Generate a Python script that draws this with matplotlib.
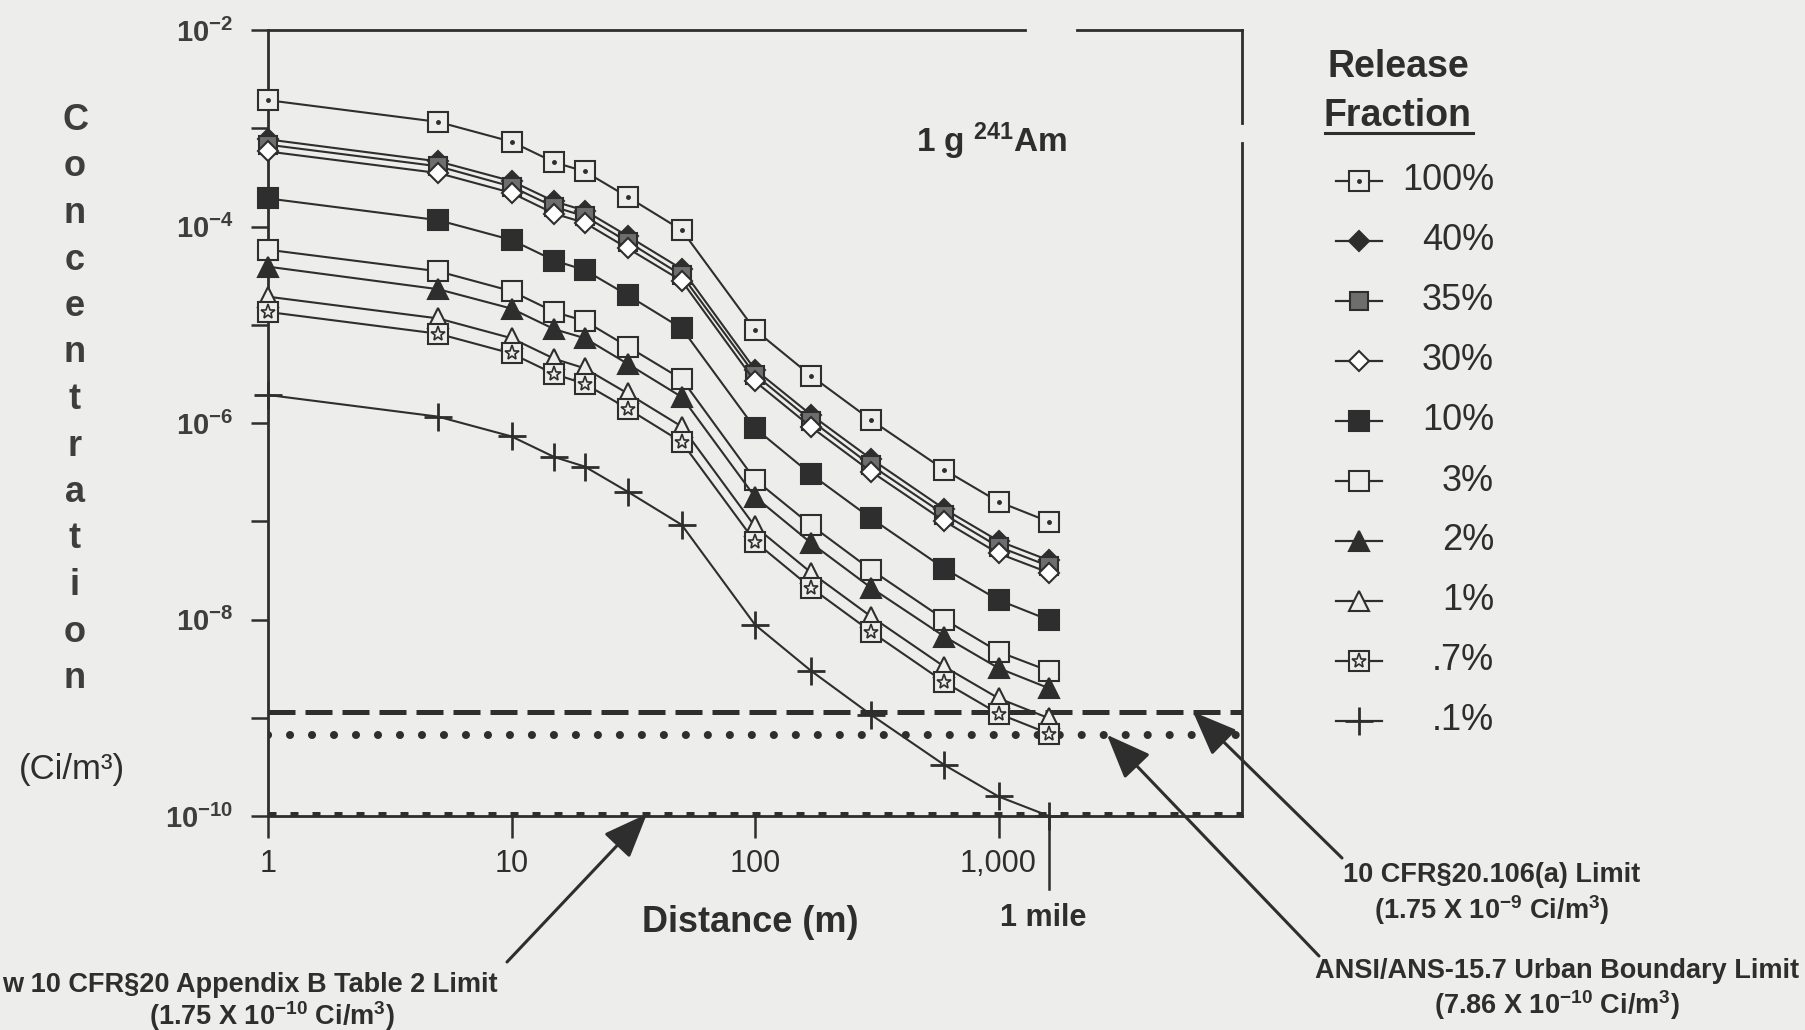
import matplotlib

matplotlib.use("Agg")
import matplotlib.pyplot as plt
import matplotlib.transforms as mtransforms
from matplotlib.lines import Line2D

plt.rcParams["font.family"] = ["Liberation Sans", "DejaVu Sans"]
plt.rcParams["mathtext.fontset"] = "custom"
plt.rcParams["mathtext.rm"] = "Liberation Sans"
plt.rcParams["mathtext.bf"] = "Liberation Sans:bold"
plt.rcParams["mathtext.it"] = "Liberation Sans:italic"

W, H = 1806, 1030
BG = "#ededeb"
INK = "#2e2e2e"
GREY = "#3e3e3e"

# ---------------------------------------------------------------------------
# Data
# ---------------------------------------------------------------------------
distance_m = [1, 5, 10, 15, 20, 30, 50, 100, 170, 300, 600, 1000, 1609]

conc_100 = [1.93e-3, 1.16e-3, 7.3e-4, 4.5e-4, 3.63e-4, 2.0e-4, 9.2e-5, 8.85e-6, 3.02e-6, 1.07e-6, 3.33e-7, 1.58e-7, 9.9e-8]
conc_40 = [7.7e-4, 4.6e-4, 2.9e-4, 1.8e-4, 1.45e-4, 8.0e-5, 3.7e-5, 3.5e-6, 1.21e-6, 4.3e-7, 1.33e-7, 6.3e-8, 4.0e-8]
conc_35 = [6.8e-4, 4.1e-4, 2.55e-4, 1.58e-4, 1.27e-4, 7.0e-5, 3.2e-5, 3.1e-6, 1.06e-6, 3.7e-7, 1.17e-7, 5.5e-8, 3.5e-8]
conc_30 = [5.8e-4, 3.5e-4, 2.2e-4, 1.35e-4, 1.09e-4, 6.0e-5, 2.8e-5, 2.65e-6, 9.1e-7, 3.2e-7, 1.0e-7, 4.7e-8, 3.0e-8]
conc_10 = [1.93e-4, 1.16e-4, 7.3e-5, 4.5e-5, 3.6e-5, 2.0e-5, 9.2e-6, 8.85e-7, 3.0e-7, 1.07e-7, 3.3e-8, 1.58e-8, 9.9e-9]
conc_3 = [5.8e-5, 3.5e-5, 2.2e-5, 1.35e-5, 1.09e-5, 6.0e-6, 2.8e-6, 2.65e-7, 9.1e-8, 3.2e-8, 1.0e-8, 4.7e-9, 3.0e-9]
conc_2 = [3.9e-5, 2.3e-5, 1.46e-5, 9.0e-6, 7.3e-6, 4.0e-6, 1.84e-6, 1.77e-7, 6.0e-8, 2.1e-8, 6.7e-9, 3.2e-9, 2.0e-9]
conc_1 = [1.93e-5, 1.16e-5, 7.3e-6, 4.5e-6, 3.6e-6, 2.0e-6, 9.2e-7, 8.85e-8, 3.0e-8, 1.07e-8, 3.3e-9, 1.58e-9, 9.9e-10]
conc_07 = [1.35e-5, 8.1e-6, 5.1e-6, 3.15e-6, 2.5e-6, 1.4e-6, 6.4e-7, 6.2e-8, 2.1e-8, 7.5e-9, 2.3e-9, 1.1e-9, 6.9e-10]
conc_01 = [1.93e-6, 1.16e-6, 7.3e-7, 4.5e-7, 3.6e-7, 2.0e-7, 9.2e-8, 8.85e-9, 3.0e-9, 1.07e-9, 3.3e-10, 1.58e-10, 1.0e-10]

release_labels = ["100%", "40%", "35%", "30%", "10%", "3%", "2%", "1%", ".7%", ".1%"]
series = [conc_100, conc_40, conc_35, conc_30, conc_10, conc_3, conc_2, conc_1, conc_07, conc_01]

# limit lines as they are drawn on the original (not their printed values)
limit_cfr20_106 = 1.15e-9
limit_ansi_urban = 6.7e-10
limit_appendix_b = 1.05e-10
one_mile_m = 1609

x_ticks = [1, 10, 100, 1000]
x_tick_labels = ["1", "10", "100", "1,000"]
y_ticks = [1e-2, 1e-3, 1e-4, 1e-5, 1e-6, 1e-7, 1e-8, 1e-9, 1e-10]
y_tick_labels = [r"$\mathbf{10^{-2}}$", "", r"$\mathbf{10^{-4}}$", "",
                 r"$\mathbf{10^{-6}}$", "", r"$\mathbf{10^{-8}}$", "",
                 r"$\mathbf{10^{-10}}$"]

# ---------------------------------------------------------------------------
# Marker styles, one per release fraction (overlay = extra marker on top)
# ---------------------------------------------------------------------------
styles = [
    dict(marker="s", ms=14, mfc=BG),
    dict(marker="D", ms=10, mfc=INK),
    dict(marker="s", ms=13, mfc="#6e6e6e"),
    dict(marker="D", ms=10, mfc="white"),
    dict(marker="s", ms=14, mfc=INK),
    dict(marker="s", ms=14, mfc=BG),
    dict(marker="^", ms=14, mfc=INK),
    dict(marker="^", ms=14, mfc=BG),
    dict(marker="s", ms=14, mfc=BG),
    dict(marker="+", ms=20, mew=2.0),
]
overlays = {0: dict(marker=".", ms=5, mfc=INK), 8: dict(marker="*", ms=11, mfc="none", mew=1.2)}


def fx(x):
    return x / W


def fy(y):
    return 1 - y / H


fig = plt.figure(figsize=(W / 100, H / 100), dpi=100, facecolor=BG)
ax = fig.add_axes([fx(268), fy(816), 974 / W, 786 / H])
ax.set_facecolor("none")
ax.set_xscale("log")
ax.set_yscale("log")
ax.set_xlim(1, 1e4)
ax.set_ylim(1e-10, 1e-2)

for i, (vals, st) in enumerate(zip(series, styles)):
    kw = dict(color=INK, mec=INK, mew=1.5)
    kw.update(st)
    ax.plot(distance_m, vals, lw=1.5, clip_on=False, zorder=3, **kw)
    if i in overlays:
        ov = dict(color=INK, mec=INK)
        ov.update(overlays[i])
        ax.plot(distance_m, vals, ls="none", clip_on=False, zorder=4, **ov)

# limit lines
ax.axhline(limit_cfr20_106, color=INK, lw=3.6, dashes=(5.4, 2.0), zorder=2)
ax.axhline(limit_ansi_urban, color=INK, lw=5.8, dashes=(0.01, 2.72),
           dash_capstyle="round", zorder=2)
ax.axhline(limit_appendix_b, color=INK, lw=3.6, dashes=(1.6, 2.8), zorder=2)

# spines (scan has small gaps in the top and right frame)
for side in ("left", "bottom"):
    ax.spines[side].set_linewidth(2.0)
    ax.spines[side].set_color(INK)
for side in ("top", "right"):
    ax.spines[side].set_visible(False)
frame = dict(color=INK, lw=2.0, transform=ax.transAxes, clip_on=False)
ax.plot([0, 0.777], [1, 1], **frame)
ax.plot([0.831, 1], [1, 1], **frame)
ax.plot([1, 1], [1, 0.882], **frame)
ax.plot([1, 1], [0.856, 0], **frame)

ax.set_xticks(x_ticks)
ax.set_xticklabels(x_tick_labels)
ax.xaxis.set_minor_locator(matplotlib.ticker.NullLocator())
ax.set_yticks(y_ticks)
ax.set_yticklabels(y_tick_labels)
ax.yaxis.set_minor_locator(matplotlib.ticker.NullLocator())
ax.tick_params(axis="x", direction="out", length=16, width=1.8, pad=8,
               labelsize=22, colors=INK)
ax.tick_params(axis="y", direction="out", length=12, width=1.8, pad=13,
               labelsize=21, colors=INK, labelcolor=GREY)

# 1 mile marker below the axis
mile_tr = mtransforms.blended_transform_factory(ax.transData, ax.transAxes)
ax.plot([one_mile_m, one_mile_m], [0, -0.093], color=INK, lw=1.8,
        transform=mile_tr, clip_on=False)

# stacked y label
word = "Concentration"
for k, ch in enumerate(word):
    fig.text(fx(75), fy(130 + 46.5 * k), ch, ha="center", va="baseline",
             fontsize=26, fontweight="bold", color=GREY)
fig.text(fx(72), fy(769), "(Ci/m\u00b3)", ha="center", va="center",
         fontsize=25, color=INK)

fig.text(fx(750), fy(923), "Distance (m)", ha="center", va="center",
         fontsize=26, fontweight="bold", color=INK)
fig.text(fx(1043), fy(918), "1 mile", ha="center", va="center",
         fontsize=22, fontweight="bold", color=INK)
fig.text(fx(916), fy(152), r"1 g $^{\mathbf{241}}$Am", ha="left", va="baseline",
         fontsize=24, fontweight="bold", color=INK)

# legend, drawn by hand so the labels are right-aligned like the original
fig.text(fx(1398), fy(67), "Release", ha="center", va="center",
         fontsize=27, fontweight="bold", color=INK)
fig.text(fx(1398), fy(116), "Fraction", ha="center", va="center",
         fontsize=27, fontweight="bold", color=INK)
fig.add_artist(Line2D([fx(1325), fx(1473)], [fy(133), fy(133)], color=INK, lw=2.2))
for i, (lab, st) in enumerate(zip(release_labels, styles)):
    yy = fy(181 + 60 * i)
    fig.add_artist(Line2D([fx(1336), fx(1382)], [yy, yy], color=INK, lw=1.6))
    kw = dict(color=INK, mec=INK, mew=1.5, ls="none")
    kw.update(st)
    fig.add_artist(Line2D([fx(1359)], [yy], **kw))
    if i in overlays:
        ov = dict(color=INK, mec=INK, ls="none")
        ov.update(overlays[i])
        fig.add_artist(Line2D([fx(1359)], [yy], **ov))
    fig.text(fx(1494), yy, lab, ha="right", va="center", fontsize=26, color=INK)

# limit annotations
note = dict(fontsize=19.5, fontweight="bold", color=INK, va="center")
fig.text(fx(1492), fy(875), "10 CFR\u00a720.106(a) Limit", ha="center", **note)
fig.text(fx(1492), fy(910), r"(1.75 X 10$^{\mathbf{-9}}$ Ci/m$^{\mathbf{3}}$)", ha="center", **note)
fig.text(fx(1557), fy(971), "ANSI/ANS-15.7 Urban Boundary Limit", ha="center", **note)
fig.text(fx(1557), fy(1005), r"(7.86 X 10$^{\mathbf{-10}}$ Ci/m$^{\mathbf{3}}$)", ha="center", **note)
fig.text(fx(2), fy(985), "w 10 CFR\u00a720 Appendix B Table 2 Limit", ha="left", **note)
fig.text(fx(272), fy(1016), r"(1.75 X 10$^{\mathbf{-10}}$ Ci/m$^{\mathbf{3}}$)", ha="center", **note)

arrow = dict(arrowstyle="-|>,head_length=0.5,head_width=0.2", mutation_scale=55,
             color=INK, lw=2.2, shrinkA=0, shrinkB=0)
ax.annotate("", xy=(36, limit_appendix_b), xycoords="data",
            xytext=(507, H - 962), textcoords="figure pixels", arrowprops=arrow)
ax.annotate("", xy=(2790, limit_ansi_urban), xycoords="data",
            xytext=(1319, H - 956), textcoords="figure pixels", arrowprops=arrow)
ax.annotate("", xy=(6290, limit_cfr20_106), xycoords="data",
            xytext=(1342, H - 858), textcoords="figure pixels", arrowprops=arrow)

fig.savefig("out.png", dpi=100, facecolor=BG)
